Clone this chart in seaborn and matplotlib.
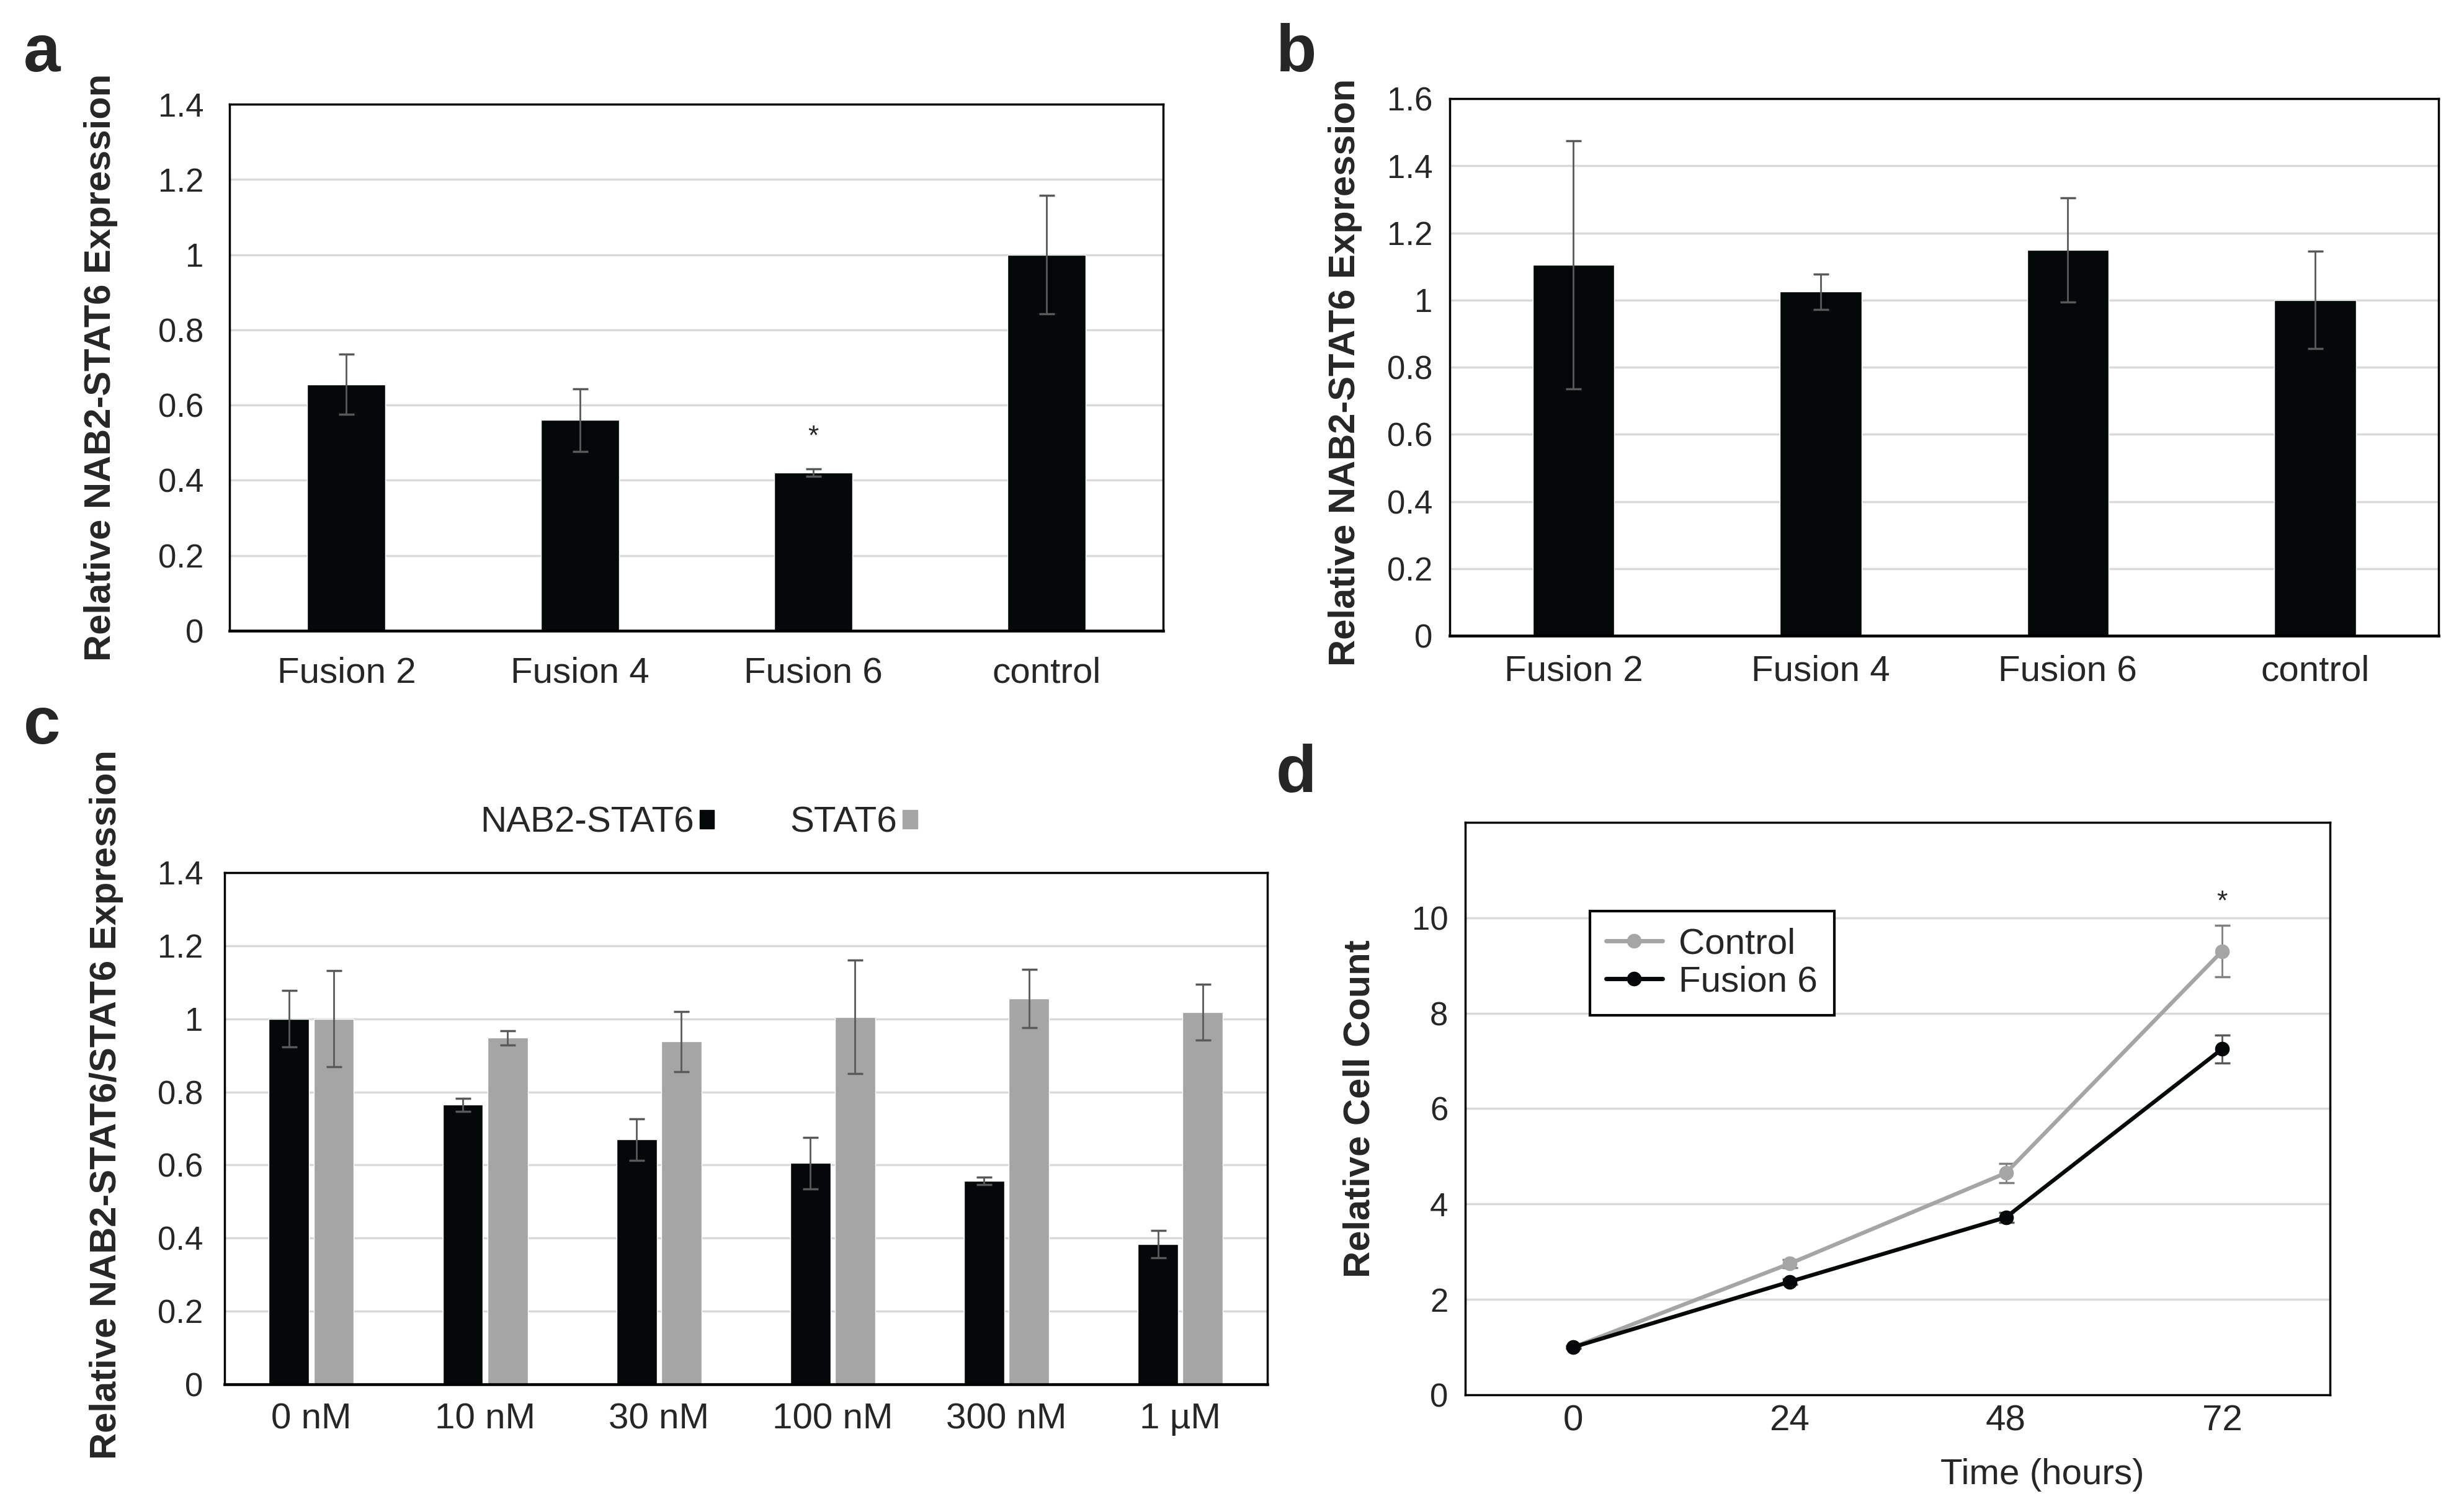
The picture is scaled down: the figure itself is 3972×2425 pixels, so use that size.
import numpy as np
import pandas as pd
import matplotlib
matplotlib.use("Agg")
import matplotlib.pyplot as plt
import seaborn as sns
from matplotlib.lines import Line2D
from matplotlib.patches import Patch

# ---------------- data ----------------
groups_ab = ["Fusion 2", "Fusion 4", "Fusion 6", "control"]
a_vals = [0.655, 0.56, 0.42, 1.0]
a_errs = [0.08, 0.083, 0.01, 0.157]
b_vals = [1.105, 1.025, 1.15, 1.0]
b_errs = [0.37, 0.053, 0.155, 0.145]

doses = ["0 nM", "10 nM", "30 nM", "100 nM", "300 nM", "1 µM"]
fusion_vals = [1.0, 0.765, 0.67, 0.605, 0.557, 0.383]
fusion_errs = [0.077, 0.018, 0.057, 0.07, 0.01, 0.037]
stat6_vals = [1.0, 0.948, 0.938, 1.005, 1.055, 1.018]
stat6_errs = [0.132, 0.02, 0.082, 0.155, 0.08, 0.077]

hours = [0, 24, 48, 72]
control_count = [1.0, 2.75, 4.65, 9.3]
control_err = [0.03, 0.08, 0.2, 0.54]
fusion6_count = [1.0, 2.37, 3.72, 7.25]
fusion6_err = [0.03, 0.06, 0.1, 0.29]

BLACK = "#050808"
GREY = "#a5a5a5"
ERR = "#595959"
GRID = "#d9d9d9"

sns.set_style("white")
plt.rcParams["font.family"] = ["Liberation Sans", "DejaVu Sans"]
YTICK_FS = 38
XTICK_FS = 42
LAB_FS = 43

fig = plt.figure(figsize=(39.72, 24.25), dpi=100)
ax_a = fig.add_axes([0.0932, 0.5806, 0.3789, 0.3501])
ax_b = fig.add_axes([0.5884, 0.5773, 0.4013, 0.3571])
ax_c = fig.add_axes([0.0911, 0.0796, 0.4232, 0.3402])
ax_d = fig.add_axes([0.5947, 0.0726, 0.3510, 0.3806])


def style_axes(ax, ylabel, xpad, ypad, lab_x, lab_y=0.5):
    ax.set_axisbelow(True)
    ax.yaxis.grid(True, color=GRID, linewidth=2.5)
    ax.xaxis.grid(False)
    for s in ["top", "right", "left"]:
        ax.spines[s].set_visible(True)
        ax.spines[s].set_color("black")
        ax.spines[s].set_linewidth(2.5)
    ax.spines["bottom"].set_color("black")
    ax.spines["bottom"].set_linewidth(3.3)
    ax.tick_params(axis="x", length=0, labelsize=XTICK_FS, pad=xpad)
    ax.tick_params(axis="y", length=0, labelsize=YTICK_FS, pad=ypad)
    ax.set_xlabel("")
    ax.set_ylabel(ylabel, fontsize=LAB_FS, fontweight="bold")
    ax.yaxis.set_label_coords(lab_x, lab_y)


def add_errors(ax, container, errs):
    xs = [bar.get_x() + bar.get_width() / 2 for bar in container]
    ys = [bar.get_height() for bar in container]
    ax.errorbar(xs, ys, yerr=errs, fmt="none", ecolor=ERR, elinewidth=2,
                capsize=9, capthick=2.5, zorder=5)


def fmt_tick(v):
    return "0" if v == 0 else ("%g" % round(v, 1))


# ---------------- panel a ----------------
df_a = pd.DataFrame({"group": groups_ab, "value": a_vals})
sns.barplot(data=df_a, x="group", y="value", color=BLACK, width=0.335,
            errorbar=None, saturation=1, ax=ax_a)
add_errors(ax_a, ax_a.containers[0], a_errs)
ticks_a = np.arange(0, 1.41, 0.2)
ax_a.set_ylim(0, 1.4)
ax_a.set_yticks(ticks_a)
ax_a.set_yticklabels([fmt_tick(v) for v in ticks_a])
ax_a.set_xlim(-0.5, 3.5)
style_axes(ax_a, "Relative NAB2-STAT6 Expression", 30, 30, -0.1196)
ax_a.text(2, 0.515, "*", ha="center", va="center", fontsize=32)

# ---------------- panel b ----------------
df_b = pd.DataFrame({"group": groups_ab, "value": b_vals})
sns.barplot(data=df_b, x="group", y="value", color=BLACK, width=0.33,
            errorbar=None, saturation=1, ax=ax_b)
add_errors(ax_b, ax_b.containers[0], b_errs)
ticks_b = np.arange(0, 1.61, 0.2)
ax_b.set_ylim(0, 1.6)
ax_b.set_yticks(ticks_b)
ax_b.set_yticklabels([fmt_tick(v) for v in ticks_b])
ax_b.set_xlim(-0.5, 3.5)
style_axes(ax_b, "Relative NAB2-STAT6 Expression", 22, 20, -0.0885, 0.49)

# ---------------- panel c ----------------
df_c = pd.DataFrame({
    "dose": doses * 2,
    "value": fusion_vals + stat6_vals,
    "target": ["NAB2-STAT6"] * len(doses) + ["STAT6"] * len(doses),
})
sns.barplot(data=df_c, x="dose", y="value", hue="target",
            palette=[BLACK, GREY], width=0.515, gap=0.1, errorbar=None,
            saturation=1, legend=False, ax=ax_c)
add_errors(ax_c, ax_c.containers[0], fusion_errs)
add_errors(ax_c, ax_c.containers[1], stat6_errs)
ax_c.set_ylim(0, 1.4)
ax_c.set_yticks(ticks_a)
ax_c.set_yticklabels([fmt_tick(v) for v in ticks_a])
ax_c.set_xlim(-0.5, 5.5)
style_axes(ax_c, "Relative NAB2-STAT6/STAT6 Expression", 21, 25, -0.097, 0.547)
ax_c.legend(handles=[Patch(color=BLACK), Patch(color=GREY)],
            labels=["NAB2-STAT6", "STAT6"], ncol=2, frameon=False,
            markerfirst=False, loc="center", bbox_to_anchor=(0.455, 1.097),
            fontsize=XTICK_FS, handlelength=0.4, handleheight=0.4,
            handletextpad=0.15, columnspacing=2.1, borderaxespad=0)

# ---------------- panel d ----------------
df_d = pd.DataFrame({
    "time": hours * 2,
    "count": control_count + fusion6_count,
    "group": ["Control"] * len(hours) + ["Fusion 6"] * len(hours),
})
sns.lineplot(data=df_d, x="time", y="count", hue="group",
             palette=[GREY, BLACK], marker="o", markersize=17,
             markeredgewidth=0, linewidth=4.6, errorbar=None, legend=False,
             ax=ax_d)
ax_d.errorbar(hours, control_count, yerr=control_err, fmt="none",
              ecolor="#808080", elinewidth=2, capsize=9, capthick=2.5,
              zorder=1)
ax_d.errorbar(hours, fusion6_count, yerr=fusion6_err, fmt="none",
              ecolor=ERR, elinewidth=2, capsize=9, capthick=2.5, zorder=1)
ax_d.set_ylim(0, 12)
ax_d.set_yticks([0, 2, 4, 6, 8, 10])
ax_d.set_xlim(-12, 84)
ax_d.set_xticks(hours)
style_axes(ax_d, "Relative Cell Count", 11, 20, -0.1026)
ax_d.spines["bottom"].set_linewidth(2.5)
ax_d.set_xlabel("Time (hours)", fontsize=XTICK_FS)
ax_d.xaxis.label.set_va("center")
ax_d.xaxis.set_label_coords(0.667, -0.14)
ax_d.text(72, 10.33, "*", ha="center", va="center", fontsize=32)
handles = [
    Line2D([0], [0], color=GREY, lw=5, marker="o", markersize=17,
           markeredgewidth=0),
    Line2D([0], [0], color=BLACK, lw=5, marker="o", markersize=17,
           markeredgewidth=0),
]
leg_d = ax_d.legend(handles=handles, labels=["Control", "Fusion 6"],
                    loc="upper left", bbox_to_anchor=(0.144, 0.845),
                    borderaxespad=0, fontsize=XTICK_FS, frameon=True,
                    fancybox=False, framealpha=1, handlelength=1.55,
                    handletextpad=0.46, borderpad=0.45, labelspacing=0.12)
leg_d.get_frame().set_edgecolor("black")
leg_d.get_frame().set_linewidth(3)

# ---------------- panel letters ----------------
for letter, (x, y) in {"a": (0.017, 0.964), "b": (0.526, 0.964),
                       "c": (0.017, 0.517), "d": (0.526, 0.485)}.items():
    fig.text(x, y, letter, fontsize=77, fontweight="bold", ha="center",
             va="center")

fig.savefig("out.png", dpi=100, facecolor="white")
